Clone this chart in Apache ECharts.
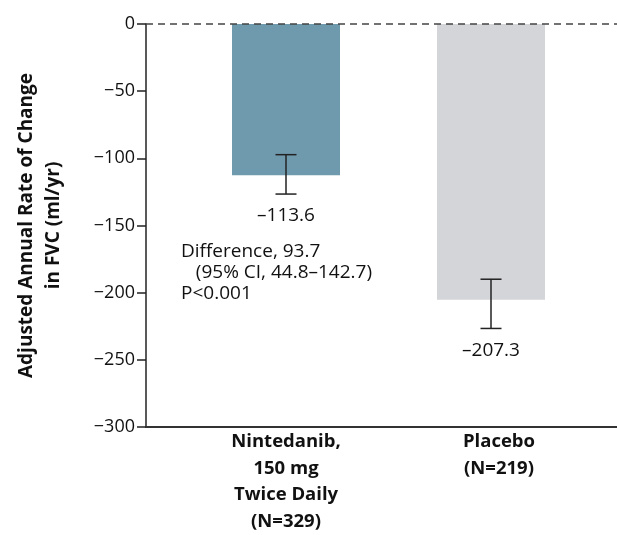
<!DOCTYPE html>
<html>
<head>
<meta charset="utf-8">
<script src="https://cdn.jsdelivr.net/npm/echarts@6/dist/echarts.min.js"></script>
<style>html,body{margin:0;padding:0;background:#fff}#c{width:617px;height:535px}</style>
</head>
<body>
<div id="c"></div>
<script>
var categories = ['Nintedanib,\n150 mg\nTwice Daily\n(N=329)', 'Placebo\n(N=219)'];
var values = [-113.6, -207.3];
var ciLow = [-127.8, -228.8];
var ciHigh = [-98.2, -191.8];
var valueLabels = ['\u2013113.6', '\u2013207.3'];
var barColors = ['#6f9aae', '#d4d5d9'];
var yTicks = { min: -300, max: 0, interval: 50 };
var annotation = ['Difference, 93.7', '   (95% CI, 44.8\u2013142.7)', 'P<0.001'];
var yTitle = 'Adjusted Annual Rate of Change\nin FVC (ml/yr)';

var FONT = '"Open Sans"';
var labelPads = [[0, 0, 0, 0], [0, 0, 0, 16]];
var chart = echarts.init(document.getElementById('c'), null, { renderer: 'canvas' });

var option = {
  animation: false,
  textStyle: { fontFamily: FONT },
  grid: [
    { left: 146, right: 0, top: 24, bottom: 108 },
    { left: 183.5, width: 410, top: 24, bottom: 108 }
  ],
  xAxis: [
    { gridIndex: 0, type: 'value', min: 0, max: 1, axisLine: { show: true, onZero: false, lineStyle: { color: '#333', width: 2 } },
      axisTick: { show: false }, axisLabel: { show: false }, splitLine: { show: false } },
    { gridIndex: 1, type: 'category',
      data: categories.map(function (c, i) { return { value: c, textStyle: { padding: labelPads[i] } }; }),
      axisLine: { show: false }, axisTick: { show: false },
      axisLabel: { margin: 5, color: '#111', fontSize: 18.5, fontWeight: 'bold', lineHeight: 26.7, fontFamily: FONT } }
  ],
  yAxis: [
    { gridIndex: 0, type: 'value', min: yTicks.min, max: yTicks.max, interval: yTicks.interval,
      axisLine: { show: true, lineStyle: { color: '#222', width: 1.5 } },
      axisTick: { show: true, length: 9, lineStyle: { color: '#222', width: 1.5 } },
      axisLabel: { margin: 11, color: '#111', fontSize: 18, fontFamily: FONT,
        formatter: function (v) { return v < 0 ? '\u2212' + Math.abs(v) : String(v); } },
      splitLine: { show: false },
      name: yTitle, nameLocation: 'middle', nameGap: 79, nameRotate: 90,
      nameTextStyle: { color: '#111', fontSize: 19, fontWeight: 'bold', lineHeight: 27, fontFamily: FONT, align: 'center' } },
    { gridIndex: 1, type: 'value', min: yTicks.min, max: yTicks.max, show: false }
  ],
  series: [
    { type: 'line', xAxisIndex: 0, yAxisIndex: 0, data: [], silent: true,
      markLine: { silent: true, symbol: 'none', label: { show: false },
        lineStyle: { type: [7, 5], color: '#444', width: 1.5 }, data: [{ yAxis: 0 }] } },
    { type: 'bar', xAxisIndex: 1, yAxisIndex: 1, barWidth: 108, silent: true, z: 2,
      data: values.map(function (v, i) { return { value: v, itemStyle: { color: barColors[i] } }; }) },
    { type: 'custom', xAxisIndex: 1, yAxisIndex: 1, silent: true, z: 5,
      data: values.map(function (v, i) { return [i, ciLow[i], ciHigh[i]]; }),
      renderItem: function (params, api) {
        var x = api.coord([api.value(0), 0])[0];
        var lo = api.coord([api.value(0), api.value(1)])[1];
        var hi = api.coord([api.value(0), api.value(2)])[1];
        var hw = 10.5;
        var st = { stroke: '#222', lineWidth: 1.5 };
        return { type: 'group', children: [
          { type: 'line', shape: { x1: x, y1: hi, x2: x, y2: lo }, style: st },
          { type: 'line', shape: { x1: x - hw, y1: hi, x2: x + hw, y2: hi }, style: st },
          { type: 'line', shape: { x1: x - hw, y1: lo, x2: x + hw, y2: lo }, style: st },
          { type: 'text', x: x, y: lo + 22, style: { text: valueLabels[params.dataIndex], fill: '#111',
            font: '19px ' + FONT, textAlign: 'center', textVerticalAlign: 'middle' } }
        ] };
      } }
  ],
  graphic: [
    { type: 'text', left: 181, top: 241, silent: true,
      style: { text: annotation.join('\n'), fill: '#111', font: '19px ' + FONT, lineHeight: 21 } }
  ]
};
chart.setOption(option);
</script>
</body>
</html>
